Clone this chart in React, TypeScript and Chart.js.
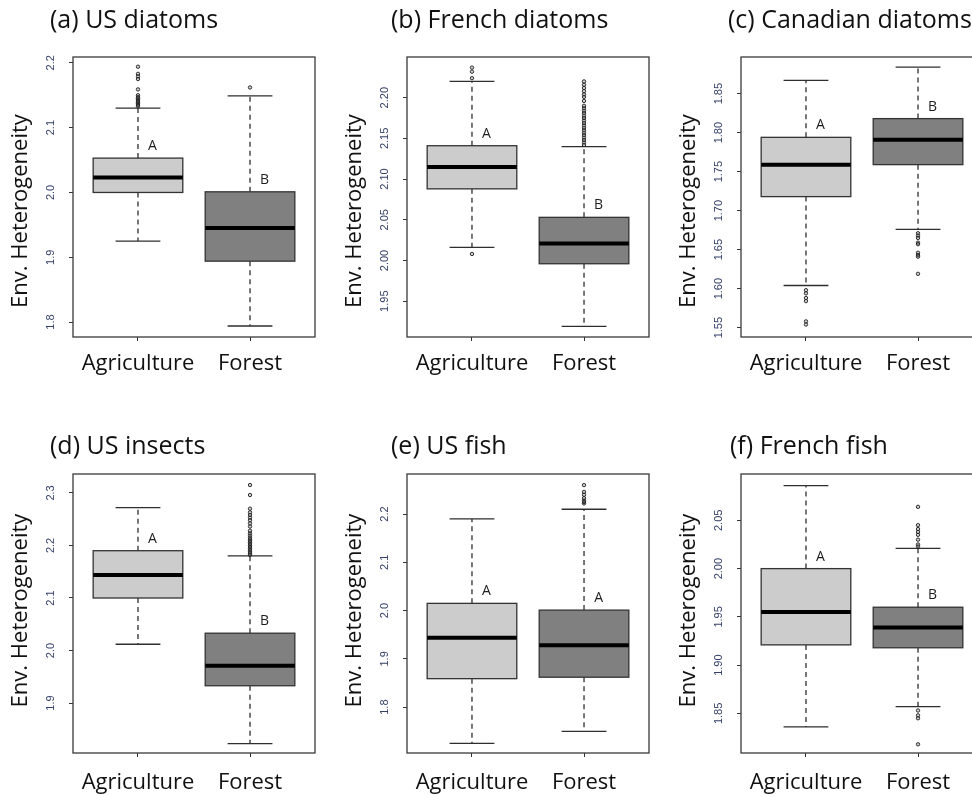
import React, { useEffect, useRef } from "react";
import { Chart, registerables } from "chart.js";
Chart.register(...registerables);

// ---------------- DATA ----------------
const categories = ["Agriculture", "Forest"];
const yAxisTitle = "Env. Heterogeneity";

// box stats: [lower whisker, Q1, median, Q3, upper whisker]
// (a) US diatoms
const usDiatomsTitle = "(a) US diatoms";
const usDiatomsAgri = [1.925, 2.0, 2.023, 2.053, 2.13];
const usDiatomsForest = [1.794, 1.894, 1.945, 2.001, 2.149];
const usDiatomsAgriOut = [2.194, 2.183, 2.179, 2.175, 2.159, 2.15, 2.147, 2.145, 2.143, 2.141, 2.139, 2.137, 2.135, 2.133];
const usDiatomsForestOut = [2.162];
const usDiatomsTicks = ["1.8", "1.9", "2.0", "2.1", "2.2"];
const usDiatomsRange = [1.777, 2.209];
const usDiatomsLetters = ["A", "B"];

// (b) French diatoms
const frDiatomsTitle = "(b) French diatoms";
const frDiatomsAgri = [2.016, 2.088, 2.115, 2.141, 2.22];
const frDiatomsForest = [1.919, 1.996, 2.021, 2.053, 2.14];
const frDiatomsAgriOut = [2.008, 2.224, 2.232, 2.237];
const frDiatomsForestOut = [2.142, 2.145, 2.148, 2.151, 2.154, 2.157, 2.16, 2.163, 2.166, 2.169, 2.172, 2.175, 2.178, 2.181, 2.184, 2.187, 2.19, 2.196, 2.201, 2.204, 2.208, 2.212, 2.216, 2.22];
const frDiatomsTicks = ["1.95", "2.00", "2.05", "2.10", "2.15", "2.20"];
const frDiatomsRange = [1.906, 2.25];
const frDiatomsLetters = ["A", "B"];

// (c) Canadian diatoms
const caDiatomsTitle = "(c) Canadian diatoms";
const caDiatomsAgri = [1.604, 1.718, 1.759, 1.794, 1.867];
const caDiatomsForest = [1.676, 1.759, 1.791, 1.818, 1.884];
const caDiatomsAgriOut = [1.598, 1.594, 1.588, 1.584, 1.558, 1.554];
const caDiatomsForestOut = [1.671, 1.668, 1.665, 1.659, 1.657, 1.646, 1.643, 1.641, 1.619];
const caDiatomsTicks = ["1.55", "1.60", "1.65", "1.70", "1.75", "1.80", "1.85"];
const caDiatomsRange = [1.538, 1.897];
const caDiatomsLetters = ["A", "B"];

// (d) US insects
const usInsectsTitle = "(d) US insects";
const usInsectsAgri = [2.012, 2.1, 2.144, 2.19, 2.272];
const usInsectsForest = [1.823, 1.933, 1.971, 2.033, 2.18];
const usInsectsAgriOut: number[] = [];
const usInsectsForestOut = [2.182, 2.185, 2.188, 2.191, 2.194, 2.197, 2.2, 2.203, 2.206, 2.209, 2.212, 2.215, 2.219, 2.223, 2.228, 2.236, 2.242, 2.248, 2.253, 2.258, 2.263, 2.27, 2.296, 2.315];
const usInsectsTicks = ["1.9", "2.0", "2.1", "2.2", "2.3"];
const usInsectsRange = [1.805, 2.336];
const usInsectsLetters = ["A", "B"];

// (e) US fish
const usFishTitle = "(e) US fish";
const usFishAgri = [1.725, 1.859, 1.944, 2.015, 2.19];
const usFishForest = [1.75, 1.862, 1.928, 2.001, 2.21];
const usFishAgriOut: number[] = [];
const usFishForestOut = [2.222, 2.225, 2.228, 2.233, 2.24, 2.246, 2.26];
const usFishTicks = ["1.8", "1.9", "2.0", "2.1", "2.2"];
const usFishRange = [1.705, 2.283];
const usFishLetters = ["A", "A"];

// (f) French fish
const frFishTitle = "(f) French fish";
const frFishAgri = [1.836, 1.921, 1.955, 2.0, 2.086];
const frFishForest = [1.857, 1.918, 1.939, 1.96, 2.021];
const frFishAgriOut: number[] = [];
const frFishForestOut = [2.023, 2.025, 2.03, 2.035, 2.038, 2.041, 2.045, 2.064, 1.853, 1.848, 1.845, 1.818];
const frFishTicks = ["1.85", "1.90", "1.95", "2.00", "2.05"];
const frFishRange = [1.809, 2.098];
const frFishLetters = ["A", "B"];

// ---------------- STYLE / LAYOUT ----------------
const FONT = '"Open Sans", "Noto Sans", sans-serif';
const BOX_FILLS = ["#cccccc", "#808080"];
const CANVAS_W = 320;
const CANVAS_H = 397;
const Y_AXIS_W = 73;

type Panel = {
  title: string; agri: number[]; forest: number[]; agriOut: number[]; forestOut: number[];
  ticks: string[]; range: number[]; letters: string[];
  left: number; top: number; padTop: number; plotH: number; xPad: number;
  titleDx: number; titleDy: number; yTitleDy: number;
};

const row1 = { top: 0, padTop: 57, plotH: 280, xPad: 10, titleDy: -36, yTitleDy: 14 };
const row2 = { top: 400, padTop: 74, plotH: 279, xPad: 13, titleDy: -27, yTitleDy: -3 };

const panels: Panel[] = [
  { title: usDiatomsTitle, agri: usDiatomsAgri, forest: usDiatomsForest, agriOut: usDiatomsAgriOut, forestOut: usDiatomsForestOut, ticks: usDiatomsTicks, range: usDiatomsRange, letters: usDiatomsLetters, left: 0, titleDx: -23, ...row1 },
  { title: frDiatomsTitle, agri: frDiatomsAgri, forest: frDiatomsForest, agriOut: frDiatomsAgriOut, forestOut: frDiatomsForestOut, ticks: frDiatomsTicks, range: frDiatomsRange, letters: frDiatomsLetters, left: 334, titleDx: -16, ...row1 },
  { title: caDiatomsTitle, agri: caDiatomsAgri, forest: caDiatomsForest, agriOut: caDiatomsAgriOut, forestOut: caDiatomsForestOut, ticks: caDiatomsTicks, range: caDiatomsRange, letters: caDiatomsLetters, left: 668, titleDx: -13, ...row1 },
  { title: usInsectsTitle, agri: usInsectsAgri, forest: usInsectsForest, agriOut: usInsectsAgriOut, forestOut: usInsectsForestOut, ticks: usInsectsTicks, range: usInsectsRange, letters: usInsectsLetters, left: 0, titleDx: -23, ...row2 },
  { title: usFishTitle, agri: usFishAgri, forest: usFishForest, agriOut: usFishAgriOut, forestOut: usFishForestOut, ticks: usFishTicks, range: usFishRange, letters: usFishLetters, left: 334, titleDx: -16, ...row2 },
  { title: frFishTitle, agri: frFishAgri, forest: frFishForest, agriOut: frFishAgriOut, forestOut: frFishForestOut, ticks: frFishTicks, range: frFishRange, letters: frFishLetters, left: 668, titleDx: -11, ...row2 },
];

const boxPlugin = {
  id: "boxplot",
  beforeDatasetsDraw(chart: any, _args: any, opts: any) {
    const { ctx, scales } = chart;
    const x = scales.x, y = scales.y;
    const line = (x1: number, y1: number, x2: number, y2: number) => {
      ctx.beginPath(); ctx.moveTo(x1, y1); ctx.lineTo(x2, y2); ctx.stroke();
    };
    ctx.save();
    (opts.boxes as number[][]).forEach((st, i) => {
      const c = i + 1;
      const xl = x.getPixelForValue(c - 0.4), xr = x.getPixelForValue(c + 0.4);
      const xc = x.getPixelForValue(c);
      const cl = x.getPixelForValue(c - 0.2), cr = x.getPixelForValue(c + 0.2);
      const [lo, q1, med, q3, hi] = st.map((v) => y.getPixelForValue(v));
      ctx.strokeStyle = "#2e2e2e";
      ctx.lineWidth = 1.3;
      ctx.setLineDash([5, 4]);
      line(xc, q3, xc, hi);
      line(xc, q1, xc, lo);
      ctx.setLineDash([]);
      line(cl, hi, cr, hi);
      line(cl, lo, cr, lo);
      ctx.fillStyle = opts.fills[i];
      ctx.fillRect(xl, q3, xr - xl, q1 - q3);
      ctx.strokeStyle = "#333333";
      ctx.lineWidth = 1.3;
      ctx.strokeRect(xl, q3, xr - xl, q1 - q3);
      ctx.strokeStyle = "#000000";
      ctx.lineWidth = 4;
      line(xl, med, xr, med);
      ctx.fillStyle = "#1e1e1e";
      ctx.font = `14px ${FONT}`;
      ctx.textAlign = "center";
      ctx.textBaseline = "middle";
      ctx.fillText(opts.letters[i], x.getPixelForValue(c + 0.13), q3 - 12);
    });
    ctx.restore();
  },
  afterDraw(chart: any, _args: any, opts: any) {
    const { ctx, chartArea } = chart;
    ctx.save();
    ctx.strokeStyle = "#3a3a3a";
    ctx.lineWidth = 1.3;
    ctx.strokeRect(chartArea.left, chartArea.top, chartArea.right - chartArea.left, chartArea.bottom - chartArea.top);
    ctx.fillStyle = "#111111";
    ctx.font = `25px ${FONT}`;
    ctx.textAlign = "left";
    ctx.textBaseline = "middle";
    ctx.fillText(opts.title, chartArea.left + opts.titleDx, chartArea.top + opts.titleDy);
    ctx.translate(chartArea.left - 52, (chartArea.top + chartArea.bottom) / 2 + opts.yTitleDy);
    ctx.rotate(-Math.PI / 2);
    ctx.font = `22px ${FONT}`;
    ctx.textAlign = "center";
    ctx.fillText(opts.yTitle, 0, 0);
    ctx.restore();
  },
};

function makeChart(canvas: HTMLCanvasElement, p: Panel) {
  const pointStyle = {
    pointRadius: 1.7,
    pointBorderWidth: 1,
    pointBorderColor: "rgba(30,30,30,0.9)",
    pointBackgroundColor: "rgba(120,120,120,0.35)",
    showLine: false,
  };
  const twoDec = p.ticks[0].split(".")[1].length === 2;
  return new Chart(canvas, {
    type: "scatter",
    data: {
      datasets: [
        { label: categories[0], data: p.agriOut.map((v) => ({ x: 1, y: v })), ...pointStyle },
        { label: categories[1], data: p.forestOut.map((v) => ({ x: 2, y: v })), ...pointStyle },
      ],
    },
    options: {
      responsive: false,
      animation: false,
      events: [],
      layout: { padding: { top: p.padTop, right: 2, bottom: 0, left: 0 } },
      plugins: {
        legend: { display: false },
        tooltip: { enabled: false },
        title: { display: false },
        boxplot: {
          boxes: [p.agri, p.forest],
          fills: BOX_FILLS,
          letters: p.letters,
          title: p.title,
          titleDx: p.titleDx,
          titleDy: p.titleDy,
          yTitle: yAxisTitle,
          yTitleDy: p.yTitleDy,
        },
      } as any,
      scales: {
        x: {
          type: "linear",
          min: 0.42,
          max: 2.58,
          afterBuildTicks: (s: any) => { s.ticks = categories.map((_, i) => ({ value: i + 1 })); },
          afterFit: (s: any) => { s.height = CANVAS_H - p.padTop - p.plotH; },
          ticks: {
            autoSkip: false,
            maxRotation: 0,
            padding: p.xPad,
            color: "#111111",
            font: { family: FONT, size: 22 },
            callback: (v: any) => categories[Math.round(Number(v)) - 1],
          },
          grid: { display: true, drawOnChartArea: false, drawTicks: true, tickLength: 4, color: "#333333", lineWidth: 1 },
          border: { display: false },
        },
        y: {
          type: "linear",
          min: p.range[0],
          max: p.range[1],
          afterBuildTicks: (s: any) => { s.ticks = p.ticks.map((t) => ({ value: parseFloat(t) })); },
          afterFit: (s: any) => { s.width = Y_AXIS_W; },
          ticks: {
            autoSkip: false,
            minRotation: 90,
            maxRotation: 90,
            crossAlign: "center",
            padding: twoDec ? 7 : 10,
            color: "#35406a",
            font: { family: '"Liberation Sans", Arial, sans-serif', size: 11 },
            callback: (_v: any, i: number) => p.ticks[i],
          },
          grid: { display: true, drawOnChartArea: false, drawTicks: true, tickLength: 4, color: "#333333", lineWidth: 1 },
          border: { display: false },
        },
      },
    } as any,
    plugins: [boxPlugin],
  });
}

export default function App() {
  const refs = useRef<(HTMLCanvasElement | null)[]>([]);
  useEffect(() => {
    const charts = panels.map((p, i) => makeChart(refs.current[i] as HTMLCanvasElement, p));
    return () => charts.forEach((c) => c.destroy());
  }, []);
  return (
    <div style={{ position: "fixed", left: 0, top: 0, width: 972, height: 797, overflow: "hidden", background: "#ffffff" }}>
      {panels.map((p, i) => (
        <canvas
          key={i}
          ref={(el) => { refs.current[i] = el; }}
          width={CANVAS_W}
          height={CANVAS_H}
          style={{ position: "absolute", left: p.left, top: p.top, width: CANVAS_W, height: CANVAS_H }}
        />
      ))}
    </div>
  );
}
